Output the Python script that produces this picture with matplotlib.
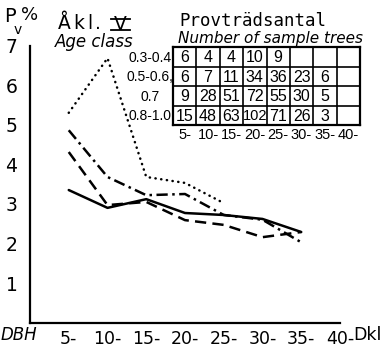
import matplotlib
matplotlib.use("Agg")
import matplotlib.pyplot as plt
from matplotlib.lines import Line2D

# DBH classes (cm, lower limit) and P_v % per density group
dbh = [5, 10, 15, 20, 25, 30, 35]
pv_03 = [5.3, 6.68, 3.68, 3.53, 3.02]
pv_05 = [4.86, 3.68, 3.22, 3.25, 2.72, 2.6, 2.03]
pv_07 = [4.31, 2.97, 3.05, 2.59, 2.47, 2.16, 2.29]
pv_08 = [3.35, 2.9, 3.12, 2.77, 2.72, 2.62, 2.29]

# sample tree counts
groups = ["0.3-0.4", "0.5-0.6,", "0.7", "0.8-1.0"]
counts_03 = [6, 4, 4, 10, 9]
counts_05 = [6, 7, 11, 34, 36, 23, 6]
counts_07 = [9, 28, 51, 72, 55, 30, 5]
counts_08 = [15, 48, 63, 102, 71, 26, 3]
table_cols = ["5-", "10-", "15-", "20-", "25-", "30-", "35-", "40-"]

xticks = [5, 10, 15, 20, 25, 30, 35, 40]
xlabels = ["5-", "10-", "15-", "20-", "25-", "30-", "35-", "40-"]
yticks = [1, 2, 3, 4, 5, 6, 7]

plt.rcParams["font.family"] = "DejaVu Sans"
narrow = "Liberation Sans"
mono = "DejaVu Sans Mono"

W, H = 380, 348
fig = plt.figure(figsize=(W / 100, H / 100), dpi=100)

def fx(px):
    return px / W

def fy(py):
    return 1 - py / H

ax = fig.add_axes([fx(30), fy(322.7), (340 - 30) / W, (322.7 - 45.5) / H])
ax.set_xlim(0, 40)
ax.set_ylim(0, 7)
for s in ["top", "right"]:
    ax.spines[s].set_visible(False)
for s in ["left", "bottom"]:
    ax.spines[s].set_linewidth(1.6)
ax.set_xticks(xticks)
ax.set_xticklabels(xlabels, fontsize=12.5)
ax.set_yticks(yticks)
ax.set_yticklabels([str(v) for v in yticks], fontsize=13.5)
ax.tick_params(axis="x", length=0, pad=5)
ax.tick_params(axis="y", length=0, pad=9)

lw = 1.8
ax.plot(dbh[:len(pv_03)], pv_03, color="black", lw=lw,
        linestyle=(0, (0.1, 2.2)), dash_capstyle="round")
ax.plot(dbh, pv_05, color="black", lw=lw,
        linestyle=(0, (4.5, 1.8, 1, 1.8)), dash_capstyle="butt")
ax.plot(dbh, pv_07, color="black", lw=lw,
        linestyle=(0, (4.5, 2.5)), dash_capstyle="butt")
ax.plot(dbh, pv_08, color="black", lw=lw, solid_capstyle="round")

ax.annotate("Dkl", xy=(40, 0), xycoords="data", xytext=(13, -12),
            textcoords="offset pixels", ha="left", va="center", fontsize=12.5,
            annotation_clip=False)
fig.text(fx(1), fy(335.5), "DBH", fontsize=12, style="italic", ha="left", va="center")

# headings
fig.text(fx(4), fy(17), "P", fontsize=14, ha="left", va="center")
fig.text(fx(14), fy(30), "v", fontsize=10, ha="left", va="center")
fig.text(fx(21), fy(15), "%", fontsize=13, ha="left", va="center")
for ch, px in zip(["Å", "k", "l", "."], [64, 79, 90, 98]):
    fig.text(fx(px), fy(23.5), ch, fontsize=13.5, ha="center", va="center")
fig.text(fx(120.5), fy(25), "V", fontsize=13.5, ha="center", va="center")
fig.add_artist(Line2D([fx(111), fx(130)], [fy(18.5), fy(18.5)], color="black", lw=1.3))
fig.add_artist(Line2D([fx(111), fx(130)], [fy(30), fy(30)], color="black", lw=1.3))
fig.text(fx(55), fy(42), "Age class", fontsize=12, style="italic", ha="left", va="center")
fig.text(fx(179), fy(20.5), "Provträdsantal", fontsize=12.5, family=mono,
         ha="left", va="center")
fig.text(fx(178), fy(38.5), "Number of sample trees", fontsize=11, style="italic",
         ha="left", va="center")

# table of sample tree counts
tab = fig.add_axes([fx(173), fy(125), (360 - 173) / W, (125 - 47) / H])
tab.set_xlim(0, 8)
tab.set_ylim(4, 0)
tab.axis("off")
for r in range(5):
    tab.plot([0, 8], [r, r], color="black", lw=1.6 if r in (0, 4) else 1.2,
             clip_on=False, solid_capstyle="projecting")
for c in range(9):
    tab.plot([c, c], [0, 4], color="black", lw=1.6 if c in (0, 8) else 1.2,
             clip_on=False, solid_capstyle="projecting")
rows = [counts_03, counts_05, counts_07, counts_08]
for r, vals in enumerate(rows):
    for c, v in enumerate(vals):
        tab.text(c + 0.5, r + 0.55, str(v), ha="center", va="center",
                 fontsize=11.5 if v < 100 else 10.5, family=narrow)
    tab.text(-0.98, r + 0.55, groups[r], ha="center", va="center",
             fontsize=10, family=narrow, clip_on=False)
for c, lab in enumerate(table_cols):
    tab.text(c + 0.5, 4.5, lab, ha="center", va="center", fontsize=10.5,
             family=narrow, clip_on=False)

fig.savefig("out.png", dpi=100)
